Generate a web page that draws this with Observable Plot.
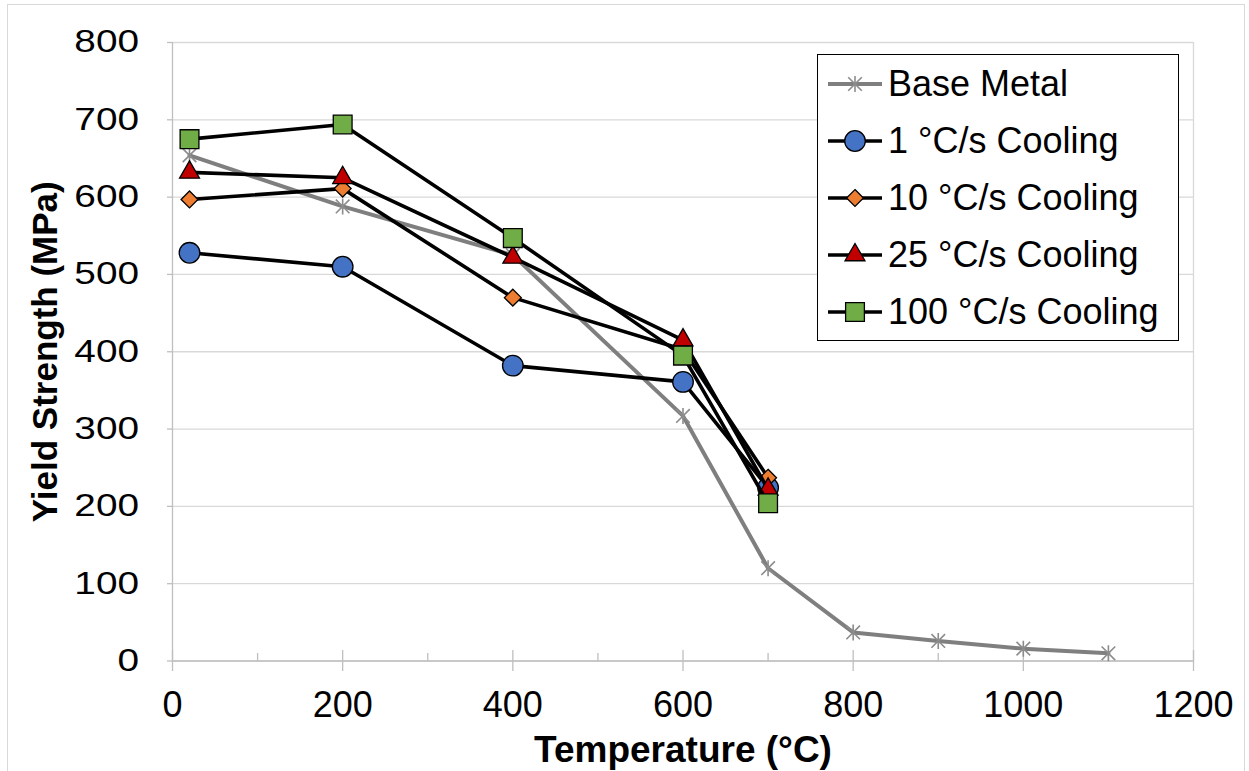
<!DOCTYPE html>
<html>
<head>
<meta charset="utf-8">
<script src="https://cdn.jsdelivr.net/npm/d3@7"></script>
<script src="https://cdn.jsdelivr.net/npm/@observablehq/plot@0.6"></script>
<style>
  html, body { margin: 0; padding: 0; background: #fff; }
  body { position: relative; width: 1249px; height: 771px; overflow: hidden; font-family: "Liberation Sans", Arial, sans-serif; }
  #frame { position: absolute; left: 7px; top: 4px; width: 1238px; height: 820px; border: 1.5px solid #d9d9d9; box-sizing: border-box; pointer-events: none; }
  #legend { position: absolute; left: 817px; top: 54px; width: 362px; height: 287px; border: 1.5px solid #000; background: #fff; box-sizing: border-box; font-size: 36px; color: #000; }
  #legend .row { display: flex; align-items: center; height: 57.2px; }
  #legend svg { margin-left: 10px; flex: none; }
  #legend span { margin-left: 6px; white-space: nowrap; }
</style>
</head>
<body>
<div id="chart"></div>
<div id="frame"></div>
<div id="legend"></div>
<script>
// ---- data ----
const seriesNames = ["Base Metal", "1 °C/s Cooling", "10 °C/s Cooling", "25 °C/s Cooling", "100 °C/s Cooling"];
const baseTemps = [20, 200, 400, 600, 700, 800, 900, 1000, 1100];
const baseMetal = [654, 588, 525, 317, 120, 37, 26, 16, 10];
const coolTemps = [20, 200, 400, 600, 700];
const cool1 = [528, 510, 382, 361, 224];
const cool10 = [597, 611, 470, 403, 237];
const cool25 = [632, 625, 522, 415, 222];
const cool100 = [675, 694, 547, 395, 204];
const xTicks = [0, 200, 400, 600, 800, 1000, 1200];
const xMinorTicks = [100, 300, 500, 700, 900, 1100];
const yTicks = [0, 100, 200, 300, 400, 500, 600, 700, 800];
const xLabel = "Temperature (°C)";
const yLabel = "Yield Strength (MPa)";

// ---- styles ----
const seriesStyle = [
  {symbol: "asterisk", fill: "none", markerStroke: "#8c8c8c", line: "#7f7f7f", r: 8},
  {symbol: "circle", fill: "#4472C4", markerStroke: "#000", line: "#000", r: 10.3},
  {symbol: "diamond2", fill: "#ED7D31", markerStroke: "#000", line: "#000", r: 7.6},
  {symbol: "triangle", fill: "#C00000", markerStroke: "#000", line: "#000", r: 7.4},
  {symbol: "square", fill: "#70AD47", markerStroke: "#000", line: "#000", r: 10.6}
];

const asteriskSym = {
  draw(ctx, size) {
    const r = Math.sqrt(size / Math.PI);
    const d = r * 0.85;
    ctx.moveTo(0, -r); ctx.lineTo(0, r);
    ctx.moveTo(-d, -d); ctx.lineTo(d, d);
    ctx.moveTo(-d, d); ctx.lineTo(d, -d);
  }
};
const majorTickSym = { draw(ctx) { ctx.moveTo(0, -11); ctx.lineTo(0, 10); } };
const minorTickSym = { draw(ctx) { ctx.moveTo(0, -8); ctx.lineTo(0, 0); } };

function symbolFor(name) {
  return name === "asterisk" ? asteriskSym : name;
}
function d3SymbolFor(name) {
  return {
    asterisk: asteriskSym,
    circle: d3.symbolCircle,
    diamond2: d3.symbolDiamond2,
    triangle: d3.symbolTriangle,
    square: d3.symbolSquare
  }[name];
}

const allValues = [baseMetal, cool1, cool10, cool25, cool100];
const allTemps = [baseTemps, coolTemps, coolTemps, coolTemps, coolTemps];
const seriesRows = allValues.map((vals, s) =>
  vals.map((v, i) => ({series: seriesNames[s], T: allTemps[s][i], Y: v}))
);

const seriesMarks = [];
seriesRows.forEach((rows, s) => {
  const st = seriesStyle[s];
  seriesMarks.push(Plot.line(rows, {x: "T", y: "Y", stroke: st.line, strokeWidth: s === 0 ? 4 : 3.6, strokeLinejoin: "round"}));
  seriesMarks.push(Plot.dot(rows, {x: "T", y: "Y", symbol: symbolFor(st.symbol), r: st.r, fill: st.fill, stroke: st.markerStroke, strokeWidth: s === 0 ? 1.6 : 1.3}));
});

const plot = Plot.plot({
  width: 1249,
  height: 771,
  marginLeft: 172,
  marginRight: 56,
  marginTop: 42,
  marginBottom: 110.5,
  style: {fontFamily: "'Liberation Sans', Arial, sans-serif", color: "#000", background: "transparent", overflow: "visible"},
  x: {domain: [0, 1200]},
  y: {domain: [0, 800]},
  marks: [
    Plot.gridY(yTicks, {stroke: "#d9d9d9", strokeOpacity: 1, strokeWidth: 1.3}),
    Plot.ruleX([1200], {stroke: "#d9d9d9", strokeWidth: 1.3}),
    Plot.ruleX([0], {stroke: "#bfbfbf", strokeWidth: 1.3}),
    Plot.ruleY([0], {stroke: "#bfbfbf", strokeWidth: 1.3}),
    Plot.dot(xTicks, {x: d => d, y: () => 0, symbol: majorTickSym, r: 5, fill: "none", stroke: "#bfbfbf", strokeWidth: 1.3}),
    Plot.dot(xMinorTicks, {x: d => d, y: () => 0, symbol: minorTickSym, r: 5, fill: "none", stroke: "#bfbfbf", strokeWidth: 1.3}),
    Plot.axisY(yTicks, {tickSize: 5, tickPadding: 28.5, stroke: "#bfbfbf", strokeWidth: 1.3, fill: "#000", fontSize: 31, label: null, tickFormat: d => `${d}`}),
    Plot.axisX(xTicks, {tickSize: 0, tickPadding: 30.5, fill: "#000", fontSize: 36, label: null, tickFormat: d => `${d}`}),
    Plot.text([yLabel], {frameAnchor: "left", textAnchor: "middle", rotate: -90, dx: -127, fontSize: 35, fontWeight: "bold", fill: "#000", lineAnchor: "middle", text: d => d}),
    Plot.text([xLabel], {frameAnchor: "bottom", textAnchor: "middle", dy: 89, fontSize: 37, fontWeight: "bold", fill: "#000", lineAnchor: "middle", text: d => d}),
    ...seriesMarks
  ]
});
document.getElementById("chart").appendChild(plot);

// stretch y tick labels horizontally as in the reference
plot.querySelectorAll('g[aria-label="y-axis tick label"] text').forEach(t => {
  const tr = t.getAttribute("transform");
  if (tr) t.setAttribute("transform", tr + " scale(1.25,1)");
});

// ---- legend ----
const legend = d3.select("#legend");
seriesNames.forEach((name, s) => {
  const st = seriesStyle[s];
  const row = legend.append("div").attr("class", "row");
  const svg = row.append("svg").attr("width", 54).attr("height", 30);
  svg.append("line").attr("x1", 0).attr("x2", 54).attr("y1", 15).attr("y2", 15)
    .attr("stroke", st.line).attr("stroke-width", s === 0 ? 4 : 3.6);
  const path = d3.symbol(d3SymbolFor(st.symbol), Math.PI * st.r * st.r)();
  svg.append("path").attr("d", path).attr("transform", "translate(27,15)")
    .attr("fill", st.fill).attr("stroke", st.markerStroke).attr("stroke-width", s === 0 ? 1.6 : 1.3);
  row.append("span").text(name);
});
</script>
</body>
</html>
